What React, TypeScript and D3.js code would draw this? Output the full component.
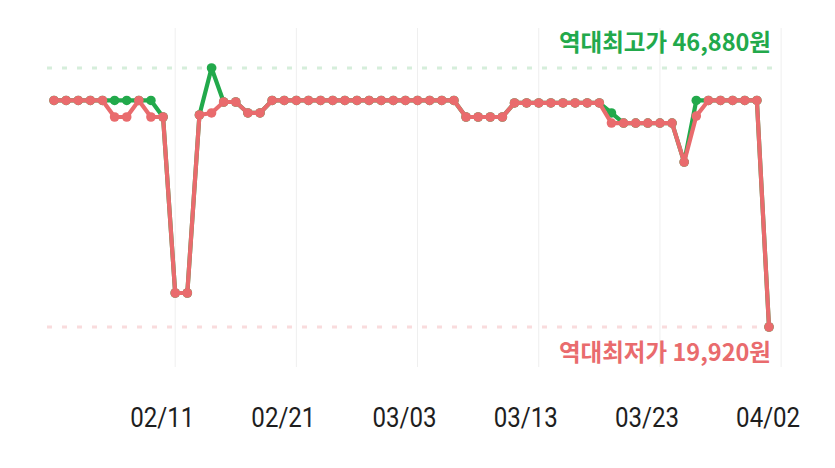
import React from "react";
import * as d3 from "d3";

const startDate = new Date(2023, 1, 1);
const tickLabels = ["02/11", "02/21", "03/03", "03/13", "03/23", "04/02"];
const tickDates = [new Date(2023, 1, 11), new Date(2023, 1, 21), new Date(2023, 2, 3), new Date(2023, 2, 13), new Date(2023, 2, 23), new Date(2023, 3, 2)];

const lowPrices = [
  43500, 43500, 43500, 43500, 43500, 41780, 41780, 43500, 41780, 41780,
  23460, 23460, 41990, 42200, 43340, 43340, 42200, 42200, 43500, 43500,
  43500, 43500, 43500, 43500, 43500, 43500, 43500, 43500, 43500, 43500,
  43500, 43500, 43500, 43500, 41780, 41780, 41780, 41780, 43240, 43240,
  43240, 43240, 43240, 43240, 43240, 43240, 41150, 41150, 41150, 41150,
  41150, 41150, 37090, 41880, 43500, 43500, 43500, 43500, 43500, 19920,
];
const highPrices = [
  43500, 43500, 43500, 43500, 43500, 43500, 43500, 43500, 43500, 41780,
  23460, 23460, 41990, 46880, 43340, 43340, 42200, 42200, 43500, 43500,
  43500, 43500, 43500, 43500, 43500, 43500, 43500, 43500, 43500, 43500,
  43500, 43500, 43500, 43500, 41780, 41780, 41780, 41780, 43240, 43240,
  43240, 43240, 43240, 43240, 43240, 43240, 42200, 41150, 41150, 41150,
  41150, 41150, 37090, 43500, 43500, 43500, 43500, 43500, 43500, 19920,
];
const maxPrice = 46880;
const minPrice = 19920;
const maxLabel = "역대최고가 46,880원";
const minLabel = "역대최저가 19,920원";

const GREEN = "#22a94b";
const RED = "#e96b6d";

export default function App() {
  const dates = lowPrices.map((_, i) => d3.timeDay.offset(startDate, i));
  const x = d3.scaleTime().domain([dates[0], dates[dates.length - 1]]).range([54, 769]);
  const y = d3.scaleLinear().domain([minPrice, maxPrice]).range([327, 68]);
  const line = d3.line<number>().x((_, i) => x(dates[i])).y((v) => y(v));

  return (
    <div style={{ position: "absolute", left: 0, top: 0 }}>
      <svg width={835} height={468} style={{ display: "block", background: "#fff" }}>
        {tickDates.map((d, i) => (
          <line key={"g" + i} x1={x(d)} x2={x(d)} y1={28} y2={367} stroke="#efefef" strokeWidth={1} />
        ))}
        <line x1={47} x2={775} y1={y(maxPrice)} y2={y(maxPrice)} stroke="#d6eedb" strokeWidth={3} strokeDasharray="5 10" />
        <line x1={47} x2={775} y1={y(minPrice)} y2={y(minPrice)} stroke="#f9dcdd" strokeWidth={3} strokeDasharray="5 10" />
        <path d={line(highPrices) || ""} fill="none" stroke={GREEN} strokeWidth={4.2} strokeLinejoin="round" />
        {highPrices.map((v, i) => (
          <circle key={"h" + i} cx={x(dates[i])} cy={y(v)} r={4.8} fill={GREEN} />
        ))}
        <path d={line(lowPrices) || ""} fill="none" stroke={RED} strokeWidth={4.2} strokeLinejoin="round" />
        {lowPrices.map((v, i) => (
          <circle key={"l" + i} cx={x(dates[i])} cy={y(v)} r={4.8} fill={RED} />
        ))}
        <text x={771} y={51} textAnchor="end" fill={GREEN} fontFamily="'Noto Sans CJK KR', 'Noto Sans', sans-serif" fontWeight={700} fontSize={23.5}>
          {maxLabel}
        </text>
        <text x={771} y={361} textAnchor="end" fill={RED} fontFamily="'Noto Sans CJK KR', 'Noto Sans', sans-serif" fontWeight={700} fontSize={23.5}>
          {minLabel}
        </text>
        {tickDates.map((d, i) => (
          <text key={"t" + i} x={x(d) - 13} y={427} textAnchor="middle" fill="#1e1e1e" fontFamily="Roboto, sans-serif" fontWeight={400} fontSize={28} textLength={64} lengthAdjust="spacingAndGlyphs">
            {tickLabels[i]}
          </text>
        ))}
      </svg>
    </div>
  );
}
